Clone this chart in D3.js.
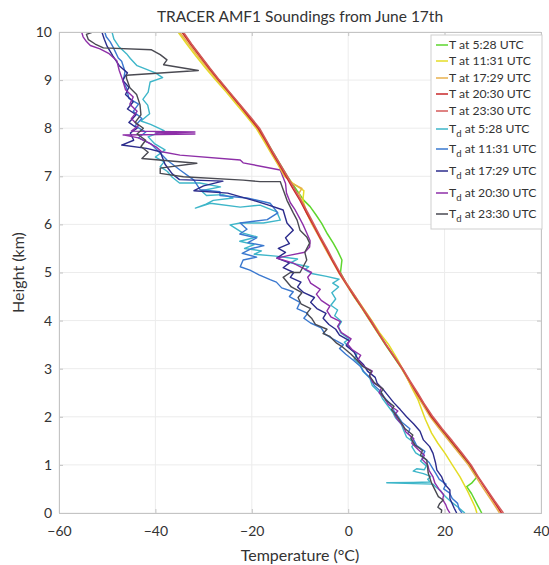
<!DOCTYPE html>
<html>
<head>
<meta charset="utf-8">
<script src="https://cdn.jsdelivr.net/npm/d3@7"></script>
<style>
  body { margin: 0; background: #fff; }
  svg text { font-family: Lato, "Open Sans", sans-serif; fill: #333; }
</style>
</head>
<body>
<svg id="chart" width="549" height="565"></svg>
<script>

// ---- data: [temperature (°C), height (km)] ----
var xTicks = [-60, -40, -20, 0, 20, 40];
var yTicks = [0, 1, 2, 3, 4, 5, 6, 7, 8, 9, 10];

var t0528 = [[27.7,0],[26.9,0.15],[25.6,0.4],[24.6,0.55],[25.6,0.62],[26.7,0.75],[25.2,1],[23.2,1.25],[21.2,1.5],[19.2,1.75],[17.2,2],[15.7,2.25],[14.1,2.5],[12.6,2.75],[11.1,3],[9.4,3.25],[7.7,3.5],[6.1,3.75],[4.5,4],[2.9,4.25],[1.2,4.5],[-0.3,4.75],[-1.6,5],[-1.3,5.26],[-2.2,5.45],[-3.1,5.61],[-4.3,5.8],[-5.5,6.02],[-6.7,6.2],[-7.9,6.37],[-9.2,6.5],[-10.6,6.7],[-12.6,7],[-14.1,7.25],[-15.6,7.5],[-17.1,7.75],[-18.6,8],[-20.6,8.25],[-22.6,8.5],[-24.7,8.75],[-26.8,9],[-28.8,9.25],[-30.7,9.5],[-32.6,9.75],[-34.4,10]];
var t1131 = [[26.7,0],[26.3,0.13],[24.8,0.45],[23.2,0.75],[21.6,1.0],[20.1,1.24],[18.6,1.45],[17.3,1.66],[16.0,1.95],[14.5,2.35],[13.2,2.6],[11.8,2.9],[10.2,3.2],[8.4,3.5],[6.5,3.75],[4.9,4],[3.2,4.25],[1.5,4.5],[-0.2,4.75],[-1.8,5],[-3.3,5.25],[-4.7,5.5],[-6.0,5.75],[-7.4,6],[-8.6,6.25],[-9.4,6.5],[-9.2,6.7],[-11.4,6.85],[-13.2,7],[-14.6,7.25],[-16.1,7.5],[-17.6,7.75],[-19.1,8],[-21.1,8.25],[-23.2,8.5],[-25.3,8.75],[-27.5,9],[-29.6,9.25],[-31.6,9.5],[-33.5,9.75],[-35.3,10]];
var t1729 = [[31.4,0],[29.8,0.25],[28.1,0.5],[26.5,0.75],[24.9,1],[22.9,1.25],[20.9,1.5],[18.9,1.75],[17.0,2],[15.5,2.25],[13.9,2.5],[12.5,2.75],[11.1,3],[9.5,3.25],[7.8,3.5],[6.1,3.75],[4.5,4],[2.9,4.25],[1.2,4.5],[-0.4,4.75],[-2.0,5],[-3.4,5.25],[-4.8,5.5],[-6.1,5.75],[-7.5,6],[-8.7,6.25],[-9.7,6.5],[-10.2,6.65],[-9.6,6.75],[-11.6,6.85],[-13.1,7],[-14.5,7.25],[-16,7.5],[-17.4,7.75],[-18.9,8],[-20.9,8.25],[-22.9,8.5],[-25.0,8.75],[-27.2,9],[-29.2,9.25],[-31.2,9.5],[-33.1,9.75],[-35,10]];
var t2030 = [[31.8,0],[30.2,0.25],[28.5,0.5],[26.9,0.75],[25.3,1],[23.3,1.25],[21.3,1.5],[19.3,1.75],[17.3,2],[15.8,2.25],[14.2,2.5],[12.7,2.75],[11.2,3],[9.5,3.25],[7.8,3.5],[6.2,3.75],[4.6,4],[3.0,4.25],[1.3,4.5],[-0.3,4.75],[-1.9,5],[-3.3,5.25],[-4.6,5.5],[-6,5.75],[-7.3,6],[-8.7,6.25],[-10,6.5],[-11.5,6.75],[-12.9,7],[-14.3,7.25],[-15.8,7.5],[-17.2,7.75],[-18.7,8],[-20.7,8.25],[-22.7,8.5],[-24.8,8.75],[-26.9,9],[-28.9,9.25],[-30.8,9.5],[-32.7,9.75],[-34.5,10]];
var t2330 = [[32.2,0],[30.4,0.25],[28.7,0.5],[27.0,0.75],[25.5,1],[23.6,1.25],[21.6,1.5],[19.5,1.75],[17.6,2],[15.9,2.25],[14.4,2.5],[12.8,2.75],[11.3,3],[9.6,3.25],[7.9,3.5],[6.3,3.75],[4.8,4],[3.1,4.25],[1.5,4.5],[-0.2,4.75],[-1.7,5],[-3.1,5.25],[-4.4,5.5],[-5.8,5.75],[-7.1,6],[-8.4,6.25],[-9.8,6.5],[-11.2,6.75],[-12.6,7],[-14.1,7.25],[-15.6,7.5],[-17.0,7.75],[-18.4,8],[-20.4,8.25],[-22.5,8.5],[-24.6,8.75],[-26.7,9],[-28.7,9.25],[-30.6,9.5],[-32.5,9.75],[-34.2,10]];

var td0528 = [[24.2,0],[23.6,0.05],[22.8,0.12],[21.5,0.22],[20.6,0.3],[19.8,0.38],[19.2,0.46],[18.2,0.54],[17.6,0.6],[8.0,0.63],[13.5,0.635],[17.0,0.645],[16.5,0.7],[17.1,0.76],[15.6,0.82],[13.5,0.87],[14.2,0.92],[15.8,0.9],[16.2,0.98],[15.0,1.08],[15.6,1.15],[14.0,1.25],[13.2,1.38],[13.8,1.45],[12.1,1.58],[11.5,1.72],[11.0,1.85],[9.8,1.98],[9.2,2.1],[8.3,2.22],[7.1,2.38],[6.5,2.5],[5.0,2.65],[4.5,2.8],[3.0,2.95],[2.6,3.08],[1.2,3.2],[1.8,3.3],[0.4,3.42],[-0.8,3.55],[0.2,3.62],[-1.6,3.75],[-2.0,3.88],[-1.4,3.98],[-2.8,4.1],[-2.2,4.22],[-3.6,4.32],[-2.6,4.45],[-3.4,4.58],[-2.0,4.7],[-3.2,4.78],[-1.9,4.86],[-4.5,4.92],[-7.6,4.98],[-9.0,5.06],[-8.2,5.12],[-12.0,5.2],[-10.5,5.28],[-15.0,5.34],[-19.5,5.38],[-18.0,5.45],[-21.5,5.5],[-19.5,5.58],[-22.5,5.65],[-18.9,5.74],[-21.8,5.82],[-24.5,5.99],[-22.4,6.03],[-17.6,6.03],[-14.1,6.09],[-14.8,6.26],[-18.3,6.4],[-22.4,6.36],[-28.6,6.44],[-31.7,6.34],[-29.5,6.42],[-28.0,6.5],[-23.9,6.55],[-26.0,6.62],[-29.4,6.6],[-30.5,6.7],[-26.5,6.78],[-30.8,6.86],[-35.0,6.86],[-36.5,6.98],[-37.5,7.1],[-39.0,7.2],[-38.2,7.3],[-40.0,7.4],[-38.0,7.55],[-40.2,7.68],[-41.5,7.82],[-38.2,7.95],[-41.0,8.08],[-43.0,8.15],[-41.2,8.3],[-41.6,8.48],[-42.6,8.6],[-41.5,8.75],[-41.1,8.96],[-38.5,9.05],[-40.0,9.15],[-43.8,9.3],[-45.2,9.45],[-46.0,9.55],[-47.6,9.7],[-48.6,9.85],[-49.0,10]];
var td1131 = [[23.6,0],[23.0,0.08],[22.7,0.2],[21.6,0.3],[21.0,0.42],[19.8,0.5],[20.3,0.6],[18.9,0.7],[18.2,0.82],[17.4,0.95],[16.8,1.05],[15.4,1.18],[15.9,1.28],[14.2,1.4],[13.6,1.52],[12.4,1.65],[12.8,1.75],[11.2,1.88],[10.4,2.0],[9.5,2.12],[8.6,2.28],[7.5,2.4],[6.8,2.52],[5.4,2.65],[4.6,2.8],[3.4,2.92],[2.5,3.05],[1.0,3.18],[-0.5,3.3],[-1.8,3.42],[-1.0,3.5],[-3.2,3.62],[-4.8,3.72],[-5.6,3.85],[-7.8,3.95],[-9.2,4.05],[-8.4,4.15],[-10.6,4.25],[-10.0,4.38],[-12.2,4.5],[-11.4,4.6],[-13.8,4.68],[-14.9,4.8],[-16.2,4.85],[-18.5,4.95],[-20.4,5.05],[-22.4,5.12],[-21.8,5.26],[-19.0,5.32],[-22.0,5.4],[-20.0,5.5],[-17.5,5.56],[-20.8,5.62],[-19.0,5.72],[-22.5,5.8],[-21.0,5.9],[-22.4,6.03],[-16.8,6.1],[-14.6,6.24],[-16.2,6.44],[-21.0,6.55],[-26.6,6.6],[-26.6,6.68],[-30.7,6.72],[-32.0,6.92],[-34.9,7.13],[-37.6,7.34],[-39.7,7.55],[-41.0,7.68],[-43.5,7.8],[-42.0,7.92],[-44.2,8.05],[-42.8,8.2],[-44.6,8.35],[-43.5,8.5],[-45.5,8.62],[-46.0,8.84],[-46.7,8.97],[-46.3,9.18],[-47.0,9.39],[-47.7,9.46],[-48.7,9.67],[-49.4,9.8],[-50.2,9.9],[-50.5,10]];
var td1729 = [[22.5,0],[22.0,0.1],[21.1,0.3],[21.1,0.48],[20.0,0.6],[19.4,0.75],[18.4,0.89],[18.1,1.05],[17.6,1.24],[16.9,1.38],[15.6,1.52],[14.9,1.7],[13.6,1.85],[12.1,2.0],[10.8,2.15],[9.4,2.3],[8.2,2.45],[7.4,2.55],[6.0,2.7],[5.6,2.82],[4.0,2.95],[3.2,3.08],[2.0,3.2],[1.2,3.35],[-0.4,3.48],[0.3,3.58],[-1.8,3.7],[-2.6,3.82],[-4.0,3.92],[-5.2,4.05],[-4.6,4.15],[-6.5,4.25],[-7.8,4.38],[-7.0,4.48],[-9.2,4.58],[-10.5,4.7],[-9.8,4.8],[-12.0,4.9],[-11.3,5.0],[-13.5,5.1],[-12.2,5.2],[-14.8,5.3],[-13.0,5.42],[-14.5,5.5],[-12.2,5.6],[-13.0,5.72],[-11.4,5.88],[-12.7,6.03],[-13.5,6.3],[-16.5,6.4],[-19.7,6.5],[-25.0,6.65],[-32.0,6.7],[-30.0,6.8],[-26.0,6.9],[-35.0,6.93],[-36.5,7.05],[-38.0,7.25],[-39.0,7.51],[-41.8,7.58],[-47.0,7.65],[-44.5,7.75],[-45.2,7.9],[-43.8,8.0],[-45.5,8.12],[-44.0,8.28],[-45.8,8.4],[-44.6,8.55],[-46.2,8.7],[-45.5,8.85],[-46.8,9.0],[-45.8,9.15],[-47.5,9.3],[-48.8,9.5],[-50.0,9.7],[-50.6,9.85],[-51.1,10]];
var td2030 = [[21.1,0],[20.6,0.08],[20.2,0.18],[19.6,0.28],[19.8,0.38],[18.8,0.5],[18.0,0.62],[17.6,0.75],[16.8,0.88],[16.5,1.0],[15.3,1.12],[15.8,1.2],[14.5,1.32],[13.2,1.45],[13.6,1.55],[12.0,1.68],[11.4,1.8],[10.2,1.95],[9.6,2.05],[10.3,2.12],[8.4,2.25],[7.6,2.38],[6.4,2.5],[6.9,2.6],[5.1,2.72],[4.4,2.85],[5.0,2.95],[3.2,3.05],[2.0,3.18],[2.6,3.28],[0.8,3.4],[-0.2,3.52],[0.6,3.62],[-1.4,3.75],[-2.2,3.88],[-1.6,3.98],[-3.6,4.08],[-4.4,4.2],[-3.8,4.3],[-5.6,4.42],[-6.6,4.55],[-5.8,4.65],[-7.8,4.78],[-8.4,4.9],[-7.6,5.0],[-9.6,5.1],[-11.5,5.2],[-14.8,5.3],[-12.0,5.36],[-9.0,5.42],[-8.0,5.53],[-7.9,5.66],[-8.6,5.82],[-9.4,6.0],[-10.2,6.15],[-11.0,6.3],[-12.0,6.45],[-12.8,6.65],[-13.0,6.85],[-14.1,7.13],[-21.8,7.28],[-22.4,7.34],[-34.9,7.44],[-38.7,7.51],[-39.7,7.6],[-41.5,7.7],[-43.5,7.8],[-46.7,7.86],[-31.8,7.88],[-40.0,7.9],[-31.8,7.92],[-45.0,7.94],[-43.5,8.05],[-45.0,8.2],[-43.8,8.35],[-45.3,8.5],[-44.6,8.65],[-46.2,8.8],[-46.8,9.0],[-47.5,9.2],[-48.0,9.4],[-49.6,9.55],[-51.5,9.65],[-53.5,9.72],[-54.3,9.8],[-55.0,9.9],[-55.3,10]];
var td2330 = [[19.3,0],[19.4,0.06],[18.6,0.12],[19.0,0.2],[19.7,0.27],[18.7,0.34],[18.0,0.48],[17.3,0.62],[16.6,0.83],[16.3,1.1],[15.0,1.2],[15.4,1.3],[13.8,1.42],[13.0,1.55],[13.4,1.62],[11.8,1.75],[11.0,1.88],[10.2,2.0],[9.0,2.15],[9.5,2.22],[7.8,2.35],[6.8,2.5],[7.2,2.58],[5.5,2.7],[4.4,2.85],[4.8,2.95],[3.0,3.05],[1.8,3.18],[0.6,3.3],[-1.3,3.46],[-2.4,3.53],[-3.8,3.67],[-5.2,3.73],[-4.4,3.82],[-6.8,3.92],[-7.6,4.05],[-8.6,4.15],[-7.8,4.25],[-9.8,4.35],[-10.4,4.48],[-9.6,4.58],[-11.8,4.7],[-13.5,4.9],[-12.0,5.0],[-10.0,5.0],[-8.6,5.26],[-9.0,5.42],[-8.0,5.61],[-8.6,5.74],[-10.0,5.88],[-10.6,6.09],[-11.4,6.24],[-12.0,6.36],[-12.7,6.5],[-14.1,6.89],[-18.3,6.89],[-21.8,6.92],[-34.2,6.99],[-39.0,7.06],[-39.0,7.17],[-31.4,7.27],[-42.8,7.37],[-41.5,7.5],[-43.0,7.62],[-42.0,7.75],[-43.8,7.88],[-42.5,8.0],[-44.2,8.12],[-43.0,8.28],[-43.2,8.49],[-43.9,8.7],[-45.3,8.84],[-46.0,9.04],[-46.0,9.1],[-31.1,9.2],[-38.3,9.32],[-37.6,9.42],[-39.0,9.53],[-40.8,9.63],[-50.8,9.67],[-52.5,9.75],[-53.9,9.84],[-54.3,9.95],[-53.0,10]];

var labels = ["5:28", "11:31", "17:29", "20:30", "23:30"];
var tSeries = [t0528, t1131, t1729, t2030, t2330];
var tdSeries = [td0528, td1131, td1729, td2030, td2330];
var tColors = ["#5ed62e", "#e4dc26", "#e8b04c", "#c8282a", "#d45a5a"];
var tdColors = ["#3eb6c9", "#3a78cf", "#2c2c8c", "#8e2fa8", "#4a4a52"];


SoundingChart = function(_svg) {
    this.svg = _svg;
    this.initVis();
}

SoundingChart.prototype.initVis = function() {
    var vis = this;

    vis.margin = {top: 32, right: 8, bottom: 52, left: 59};
    vis.width = +vis.svg.attr("width") - vis.margin.left - vis.margin.right;
    vis.height = +vis.svg.attr("height") - vis.margin.top - vis.margin.bottom;

    vis.x = d3.scaleLinear().domain([-60, 40]).range([0, vis.width]);
    vis.y = d3.scaleLinear().domain([0, 10]).range([vis.height, 0]);

    vis.g = vis.svg.append("g")
        .attr("transform", "translate(" + vis.margin.left + "," + vis.margin.top + ")");

    vis.svg.append("defs").append("clipPath").attr("id", "plot-clip")
        .append("rect").attr("width", vis.width).attr("height", vis.height);

    // grid
    vis.g.selectAll(".xgrid").data(xTicks).enter().append("line")
        .attr("x1", d => vis.x(d)).attr("x2", d => vis.x(d))
        .attr("y1", 0).attr("y2", vis.height)
        .attr("stroke", "#ececec");
    vis.g.selectAll(".ygrid").data(yTicks).enter().append("line")
        .attr("y1", d => vis.y(d)).attr("y2", d => vis.y(d))
        .attr("x1", 0).attr("x2", vis.width)
        .attr("stroke", "#ececec");

    vis.updateVis();
}

SoundingChart.prototype.updateVis = function() {
    var vis = this;

    var line = d3.line()
        .x(d => vis.x(d[0]))
        .y(d => vis.y(d[1]));

    var lines = vis.g.append("g").attr("clip-path", "url(#plot-clip)");

    // dewpoints under, temperatures on top
    tdSeries.forEach(function(s, i) {
        lines.append("path").datum(s)
            .attr("d", line)
            .attr("fill", "none")
            .attr("stroke", tdColors[i])
            .attr("stroke-width", 1.4)
            .attr("stroke-linejoin", "round");
    });
    tSeries.forEach(function(s, i) {
        lines.append("path").datum(s)
            .attr("d", line)
            .attr("fill", "none")
            .attr("stroke", tColors[i])
            .attr("stroke-width", 1.5)
            .attr("stroke-linejoin", "round");
    });

    // axes, matlab style: box with inward ticks
    vis.g.append("g")
        .attr("transform", "translate(0," + vis.height + ")")
        .call(d3.axisBottom(vis.x).tickValues(xTicks).tickSize(-4).tickPadding(13));
    vis.g.append("g")
        .call(d3.axisLeft(vis.y).tickValues(yTicks).tickSize(-4).tickPadding(7));
    vis.g.append("g")
        .call(d3.axisTop(vis.x).tickValues(xTicks).tickSize(-4).tickFormat(""));
    vis.g.append("g")
        .attr("transform", "translate(" + vis.width + ",0)")
        .call(d3.axisRight(vis.y).tickValues(yTicks).tickSize(-4).tickFormat(""));

    vis.g.selectAll(".domain, .tick line").attr("stroke", "#c4c4c4");
    vis.g.selectAll(".tick text")
        .style("font-size", "14px")
        .attr("fill", "#333");

    // titles
    vis.svg.append("text")
        .attr("x", 300).attr("y", 22)
        .attr("text-anchor", "middle")
        .style("font-size", "15.5px")
        .text("TRACER AMF1 Soundings from June 17th");
    vis.svg.append("text")
        .attr("x", vis.margin.left + vis.x(-10)).attr("y", 561)
        .attr("text-anchor", "middle")
        .style("font-size", "16px")
        .text("Temperature (°C)");
    vis.svg.append("text")
        .attr("transform", "translate(24," + (vis.margin.top + vis.y(5)) + ") rotate(-90)")
        .attr("text-anchor", "middle")
        .style("font-size", "16px")
        .text("Height (km)");

    // legend
    var leg = vis.svg.append("g").attr("transform", "translate(431,35)");
    leg.append("rect")
        .attr("width", 111).attr("height", 194)
        .attr("fill", "#fff").attr("stroke", "#cfcfcf");

    var rows = [];
    labels.forEach(function(l, i) { rows.push({sub: false, label: l, color: tColors[i]}); });
    labels.forEach(function(l, i) { rows.push({sub: true, label: l, color: tdColors[i]}); });

    var rowY = [10, 26, 43, 59, 76, 94, 114, 136, 158, 179];
    var item = leg.selectAll(".item").data(rows).enter().append("g")
        .attr("transform", (d, i) => "translate(0," + rowY[i] + ")");
    item.append("line")
        .attr("x1", 5).attr("x2", 17)
        .attr("stroke", d => d.color).attr("stroke-width", 1.5);
    var txt = item.append("text")
        .attr("x", 18).attr("dy", "0.35em")
        .style("font-size", "12.2px");
    txt.append("tspan").text("T");
    txt.filter(d => d.sub).append("tspan")
        .attr("dy", 4).style("font-size", "9.5px").text("d");
    txt.append("tspan")
        .attr("dy", d => d.sub ? -4 : 0)
        .text(d => " at " + d.label + " UTC");
}

var chart = new SoundingChart(d3.select("#chart"));
</script>
</body>
</html>
